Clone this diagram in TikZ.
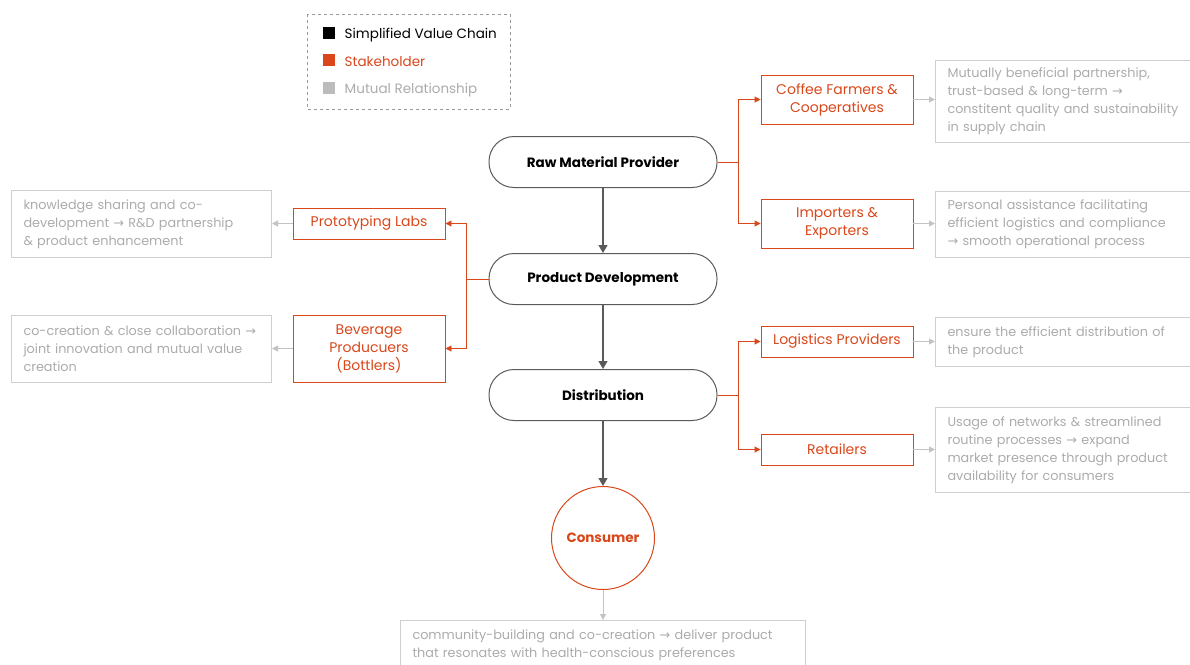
\documentclass[tikz,border=0pt]{standalone}
\usepackage{fontspec}
\setmainfont{Poppins}
\newfontfamily\arrowfont{DejaVu Sans}
\newcommand{\tto}{{\arrowfont →}}
\usetikzlibrary{arrows.meta,positioning}
\tikzset{>={Triangle[length=8pt,width=9pt]}}
\definecolor{stakeorange}{HTML}{D9471A}
\definecolor{relgray}{HTML}{ABABAB}
\definecolor{relframe}{HTML}{CFCFCF}
\definecolor{chaingray}{HTML}{5A5A5A}
\tikzset{
  chainbox/.style={draw=chaingray,line width=1pt,rounded corners=25pt,minimum width=228pt,minimum height=51pt,font=\fontsize{13.5}{16}\selectfont\bfseries},
  stakebox/.style={draw=stakeorange,line width=0.9pt,minimum width=152pt,text=stakeorange,align=center,inner sep=2pt,font=\fontsize{14}{18}\selectfont},
  relbox/.style={draw=relframe,line width=1pt,anchor=north west,text=relgray,align=left,inner xsep=12pt,inner ysep=0pt,font=\fontsize{12.8}{18}\selectfont,execute at begin node={\hyphenpenalty=10000\relax}},
  chainarrow/.style={->,draw=chaingray,line width=1.2pt},
  stakearrow/.style={-{Triangle[length=6pt,width=6pt]},draw=stakeorange,line width=0.9pt},
  relarrow/.style={-{Triangle[length=6pt,width=6pt]},draw=relframe!85!gray,line width=1pt},
  legendsq/.style={minimum size=12pt,inner sep=0pt},
  legendtext/.style={right=6pt,font=\fontsize{13.5}{16}\selectfont,yshift=-2pt}
}
\begin{document}
\begin{tikzpicture}[x=1pt,y=-1pt]
\useasboundingbox (0,0) rectangle (1190,664);

\pgfmathsetmacro{\xc}{603}
\pgfmathsetmacro{\xr}{837}
\pgfmathsetmacro{\xl}{369}

  \draw[dashed,draw=gray!80,line width=0.8pt] (307,14) rectangle (510,109);
  \node[legendsq,fill=black] (sqchain) at (329,33) {};
  \node[legendsq,fill=stakeorange] (sqstake) at (329,60) {};
  \node[legendsq,fill=relgray!80] (sqrel) at (329,88) {};
  \node[legendtext] at (sqchain.east) {Simplified Value Chain};
  \node[legendtext,text=stakeorange] at (sqstake.east) {Stakeholder};
  \node[legendtext,text=relgray] at (sqrel.east) {Mutual Relationship};

  \node[chainbox] (raw) at (\xc,162) {Raw Material Provider};
  \node[chainbox] (prod) at (\xc,279) {Product Development};
  \node[chainbox] (dist) at (\xc,395) {Distribution};
  \node[circle,draw=stakeorange,line width=1pt,minimum size=103pt,text=stakeorange,font=\fontsize{13.5}{16}\selectfont\bfseries] (cons) at (\xc,538) {Consumer};

  \draw[chainarrow] (raw) -- (prod);
  \draw[chainarrow] (prod) -- (dist);
  \draw[chainarrow] (dist) -- (cons);

  \node[stakebox,minimum height=49pt] (coffee) at (\xr,99.5) {Coffee Farmers \&\\Cooperatives};
  \node[stakebox,minimum height=49pt] (import) at (\xr,223.5) {Importers \&\\Exporters};
  \node[stakebox,minimum height=31pt] (logis) at (\xr,341.5) {Logistics Providers};
  \node[stakebox,minimum height=31pt] (retail) at (\xr,449.5) {Retailers};
  \node[stakebox,minimum height=31pt] (proto) at (\xl,223.5) {Prototyping Labs};
  \node[stakebox,minimum height=67pt] (bever) at (\xl,348.5) {Beverage\\Producuers\\(Bottlers)};

  \draw[stakeorange,line width=0.9pt] (raw.east) -- ++(21,0) coordinate (rawfork);
  \draw[stakearrow] (rawfork) |- (coffee.west);
  \draw[stakearrow] (rawfork) |- (import.west);
  \draw[stakeorange,line width=0.9pt] (dist.east) -- ++(21,0) coordinate (distfork);
  \draw[stakearrow] (distfork) |- (logis.west);
  \draw[stakearrow] (distfork) |- (retail.west);
  \draw[stakeorange,line width=0.9pt] (prod.west) -- ++(-22,0) coordinate (prodfork);
  \draw[stakearrow] (prodfork) |- (proto.east);
  \draw[stakearrow] (prodfork) |- (bever.east);

  \node[relbox,minimum height=82pt,text width=242pt] (coffeerel) at (935,60) {Mutually beneficial partnership,\\trust-based \& long-term \tto\\constitent quality and sustainability\\in supply chain};
  \node[relbox,minimum height=66pt,text width=242pt] (importrel) at (935,191) {Personal assistance facilitating\\efficient logistics and compliance\\\tto\ smooth operational process};
  \node[relbox,minimum height=49pt,text width=242pt] (logisrel) at (935,317) {ensure the efficient distribution of\\the product};
  \node[relbox,minimum height=85pt,text width=242pt] (retailrel) at (935,407) {Usage of networks \& streamlined\\routine processes \tto\ expand\\market presence through product\\availability for consumers};
  \node[relbox,minimum height=67pt,text width=236pt] (protorel) at (11,190) {knowledge sharing and co-\\development \tto\ R\&D partnership\\\& product enhancement};
  \node[relbox,minimum height=67pt,text width=236pt] (beverrel) at (11,315) {co-creation \& close collaboration \tto\\joint innovation and mutual value\\creation};
  \node[relbox,minimum height=50pt,text width=381pt] (consrel) at (400,620) {community-building and co-creation \tto\ deliver product\\that resonates with health-conscious preferences};

  \draw[relarrow] (coffee.east) -- (coffee.east -| coffeerel.west);
  \draw[relarrow] (import.east) -- (import.east -| importrel.west);
  \draw[relarrow] (logis.east) -- (logis.east -| logisrel.west);
  \draw[relarrow] (retail.east) -- (retail.east -| retailrel.west);
  \draw[relarrow] (proto.west) -- (proto.west -| protorel.east);
  \draw[relarrow] (bever.west) -- (bever.west -| beverrel.east);
  \draw[relarrow] (cons) -- (cons.south |- consrel.north);

  \end{tikzpicture}
\end{document}
